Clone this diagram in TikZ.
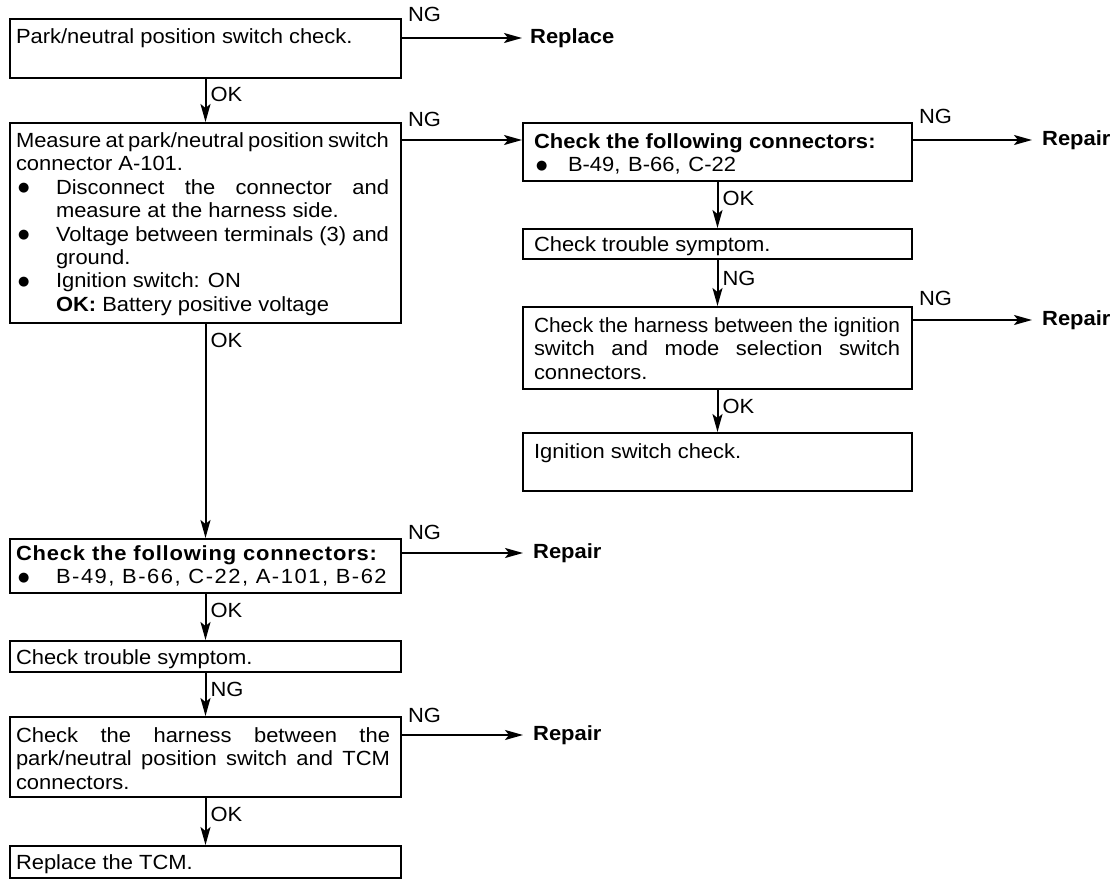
\documentclass[tikz,border=0pt]{standalone}
\usepackage{fontspec}
\usepackage{graphicx}
\setmainfont{Liberation Sans}[FakeStretch=1.07]
\newfontfamily\dejavu{DejaVu Sans}
\usetikzlibrary{arrows.meta}
\newcommand{\bxt}[4]{\parbox[c][#2][t]{#1}{\setlength{\parindent}{0pt}\leftskip=#3\relax #4}}
\newcommand{\fl}[1]{\rule{0pt}{#1pt}}
\newcommand{\bu}[1]{\makebox[#1][l]{\hspace{2pt}\raisebox{2.5pt}{\dejavu\fontsize{13pt}{13pt}\selectfont ●}}}
\newcommand{\jl}[2]{\makebox[#1][s]{#2}}
\newcommand{\hd}[2]{\textbf{\addfontfeatures{LetterSpace=#1}#2}}
\tikzset{
  box/.style={draw, line width=2pt, inner sep=0pt, anchor=north west,
    font=\fontsize{20.5pt}{23.4pt}\selectfont},
  lab/.style={inner sep=1pt, font=\fontsize{20.5pt}{23.4pt}\selectfont},
  res/.style={inner sep=0pt, anchor=west, font=\fontsize{20.5pt}{23.4pt}\selectfont\bfseries},
  arr/.style={line width=2pt, -{Stealth[length=18pt,width=10pt,inset=4pt]}}
}
\begin{document}
\begin{tikzpicture}[x=1pt,y=-1pt]
\useasboundingbox (0,0) rectangle (1120,886);
% left column
\node[box] (b1) at (9,18) {\bxt{391pt}{59pt}{6pt}{\fl{24.5}Park/neutral position switch check.}};
\node[box] (b2) at (9,122) {\bxt{391pt}{200pt}{6pt}{\fl{24.5}\jl{373pt}{Measure at park/neutral position switch}\\
connector A-101.\\
\bu{40pt}\jl{333pt}{Disconnect the connector and}\\
\hspace*{40pt}measure at the harness side.\\
\bu{40pt}\jl{333pt}{Voltage between terminals (3) and}\\
\hspace*{40pt}ground.\\
\bu{40pt}Ignition switch: ON\\
\hspace*{40pt}\textbf{OK:} Battery positive voltage}};
\node[box] (b7) at (9,538) {\bxt{391pt}{54pt}{6pt}{\fl{21.5}\hd{4}{Check the following connectors:}\\
\bu{40pt}{\addfontfeatures{LetterSpace=7.5}B-49, B-66, C-22, A-101, B-62}}};
\node[box] (b8) at (9,640) {\bxt{391pt}{31pt}{6pt}{\fl{23.5}Check trouble symptom.}};
\node[box] (b9) at (9,716) {\bxt{391pt}{80pt}{6pt}{\fl{25.5}\jl{374pt}{Check the harness between the}\\
\jl{374pt}{park/neutral position switch and TCM}\\
connectors.}};
\node[box] (b10) at (9,845) {\bxt{391pt}{32pt}{6pt}{\fl{23.5}Replace the TCM.}};
% right column
\node[box] (b3) at (522,122) {\bxt{389pt}{58pt}{11pt}{\fl{25.5}\hd{0.5}{Check the following connectors:}\\
\bu{34pt}\jl{168pt}{B-49, B-66, C-22}}};
\node[box] (b4) at (522,228) {\bxt{389pt}{30pt}{11pt}{\fl{22.5}Check trouble symptom.}};
\node[box] (b5) at (522,306) {\bxt{389pt}{82pt}{11pt}{\fl{25.5}\resizebox{366pt}{\height}{Check the harness between the ignition}\\
\jl{366pt}{switch and mode selection switch}\\
connectors.}};
\node[box] (b6) at (522,432) {\bxt{389pt}{58pt}{11pt}{\fl{25.5}Ignition switch check.}};
% results
\node[res] (r1) at (530,38) {Replace};
\node[res] (r3) at (1042,140) {Repair};
\node[res] (r5) at (1042,320) {Repair};
\node[res] (r7) at (533,553) {Repair};
\node[res] (r9) at (533,735) {Repair};
% NG arrows
\draw[arr] ([yshift=-20pt]b1.north east) -- node[lab, pos=0, anchor=south west, xshift=4pt, yshift=14pt]{NG} ([xshift=-8pt]r1.west);
\draw[arr] ([yshift=-18pt]b2.north east) -- node[lab, pos=0, anchor=south west, xshift=4pt, yshift=11pt]{NG} ([yshift=-18pt]b3.north west);
\draw[arr] ([yshift=-18pt]b3.north east) -- node[lab, pos=0, anchor=south west, xshift=4pt, yshift=14pt]{NG} ([xshift=-10pt]r3.west);
\draw[arr] ([yshift=-14pt]b5.north east) -- node[lab, pos=0, anchor=south west, xshift=4pt, yshift=12pt]{NG} ([xshift=-10pt]r5.west);
\draw[arr] ([yshift=-15pt]b7.north east) -- node[lab, pos=0, anchor=south west, xshift=4pt, yshift=11pt]{NG} ([xshift=-10pt]r7.west);
\draw[arr] ([yshift=-19pt]b9.north east) -- node[lab, pos=0, anchor=south west, xshift=4pt, yshift=10pt]{NG} ([xshift=-10pt]r9.west);
% vertical arrows
\draw[arr] (b1.south) -- node[lab, pos=0, anchor=north west, xshift=3pt, yshift=-6pt]{OK} (b2.north);
\draw[arr] (b2.south) -- node[lab, pos=0, anchor=north west, xshift=3pt, yshift=-7pt]{OK} (b7.north);
\draw[arr] (b7.south) -- node[lab, pos=0, anchor=north west, xshift=3pt, yshift=-7pt]{OK} (b8.north);
\draw[arr] (b8.south) -- node[lab, pos=0, anchor=north west, xshift=3pt, yshift=-7pt]{NG} (b9.north);
\draw[arr] (b9.south) -- node[lab, pos=0, anchor=north west, xshift=3pt, yshift=-7pt]{OK} (b10.north);
\draw[arr] (b3.south) -- node[lab, pos=0, anchor=north west, xshift=3pt, yshift=-7pt]{OK} (b4.north);
\draw[arr] (b4.south) -- node[lab, pos=0, anchor=north west, xshift=3pt, yshift=-9pt]{NG} (b5.north);
\draw[arr] (b5.south) -- node[lab, pos=0, anchor=north west, xshift=3pt, yshift=-7pt]{OK} (b6.north);
\end{tikzpicture}
\end{document}
